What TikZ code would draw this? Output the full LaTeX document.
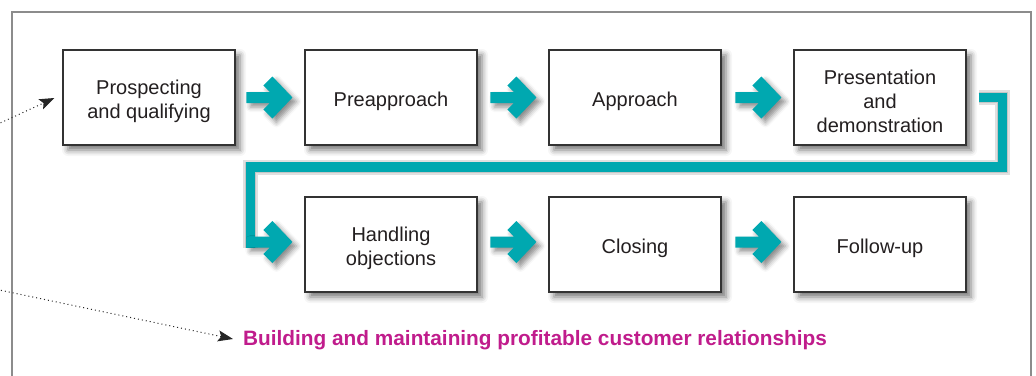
\documentclass[tikz,border=0pt]{standalone}
\usepackage{fontspec}
\setmainfont{Liberation Sans}
\usetikzlibrary{arrows.meta,calc,shadows.blur}
\definecolor{tealc}{RGB}{0,168,176}
\definecolor{magc}{RGB}{192,28,140}
\definecolor{txtc}{RGB}{35,31,32}
\definecolor{framec}{RGB}{140,140,140}
\tikzset{
  stepbox/.style={draw=black!80, line width=1.1pt, fill=white,
    minimum width=172pt, minimum height=95pt, inner sep=0pt,
    blur shadow={shadow xshift=5pt, shadow yshift=-5pt, shadow blur radius=6pt, shadow opacity=55}},
  steptext/.style={align=center, inner sep=0pt,
    font=\fontsize{20}{24}\selectfont, text=txtc},
  tealshape/.style={fill=tealc,
    blur shadow={shadow xshift=4pt, shadow yshift=-4pt, shadow blur radius=5pt, shadow opacity=45}},
  bracketline/.style={draw=tealc, line width=9.5pt, line join=miter, line cap=butt},
  bracketshadow/.style={draw=black, line width=#1, line join=miter, line cap=butt, opacity=0.12},
  dotarrow/.style={draw=black!85, line width=1pt, dash pattern=on 1pt off 3pt,
    -{Stealth[length=15pt,width=11pt,inset=3pt]}},
  frameline/.style={draw=framec, line width=1.5pt},
}
\newcommand\tealarrow[2][0]{%
  \path[tealshape, shift={($(#2.west)+(-12,#1)$)}]
    (0,0) -- (-20,-21) -- (-29,-12) -- (-22.5,-5.5) -- (-46,-5.5) -- (-46,5.5)
    -- (-22.5,5.5) -- (-29,12) -- (-20,21) -- cycle;}
\newcommand\steplabel[2]{\node[steptext] (#1t) at ($(#1)+(0,3.5)$) {#2};}
\begin{document}
\begin{tikzpicture}[x=1pt,y=-1pt]
\useasboundingbox (0,0) rectangle (1036,375);
% frame
\draw[frameline] (12,380) -- (12,12) -- (1031,12) -- (1031,380);

% boxes
\node[stepbox] (b1) at (149,97.5) {};
\node[stepbox] (b2) at (391,97.5) {};
\node[stepbox] (b3) at (635,97.5) {};
\node[stepbox] (b4) at (880,97.5) {};
\node[stepbox] (b5) at (391,244.5) {};
\node[stepbox] (b6) at (635,244.5) {};
\node[stepbox] (b7) at (880,244.5) {};
\steplabel{b1}{Prospecting\\and qualifying}
\steplabel{b2}{Preapproach}
\steplabel{b3}{Approach}
\steplabel{b4}{Presentation\\and\\demonstration}
\steplabel{b5}{Handling\\objections}
\steplabel{b6}{Closing}
\steplabel{b7}{Follow-up}

% arrows
\tealarrow{b2}
\tealarrow{b3}
\tealarrow{b4}
\tealarrow[-2.5]{b6}
\tealarrow[-2.5]{b7}

% bracket connector b4 -> b5
\coordinate (k0) at ($(b4.east)+(12,0)$);
\coordinate (k1) at ($(b4.east)+(36,69.5)$);
\coordinate (k2) at ($(b5.west)+(-54,3)$);
\draw[bracketshadow=15pt, shift={(4,4)}] (k0) -| (k1) -| (k2);
\draw[bracketshadow=11pt, shift={(4,4)}] (k0) -| (k1) -| (k2);
\draw[bracketline] (k0) -| (k1) -| (k2);
\tealarrow[-2.5]{b5}

% bottom text
\node[anchor=west, inner sep=0pt, text=magc, font=\bfseries\fontsize{20.8}{24}\selectfont]
  (rel) at (243,340.5) {Building and maintaining profitable customer relationships};

% dotted arrows
\coordinate (s1) at (-3,124.5);
\coordinate (s2) at (-3,289.5);
\draw[dotarrow] (s1) -- ($(b1.west)+(-8,0.5)$);
\draw[dotarrow] (s2) -- ($(rel.west)+(-10,-1.5)$);
\end{tikzpicture}
\end{document}
